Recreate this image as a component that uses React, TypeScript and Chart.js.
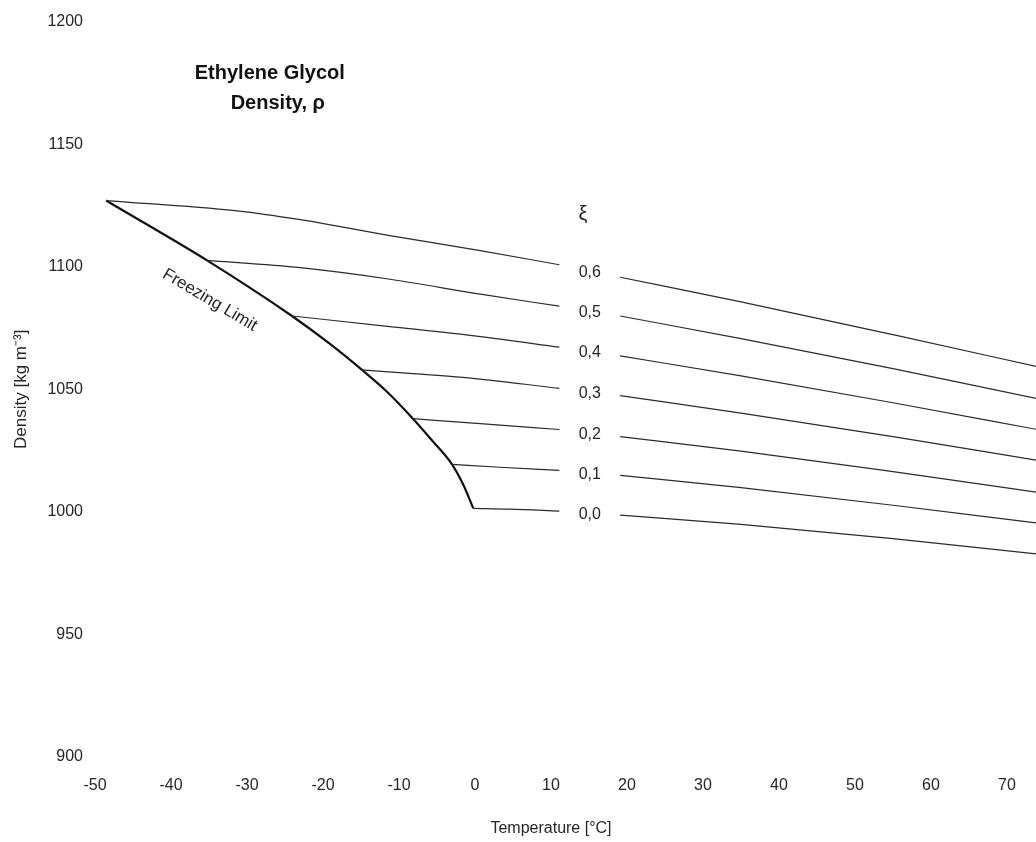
import React, { useEffect, useRef } from "react";
import { Chart, registerables } from "chart.js";

Chart.register(...registerables);

// ---- Axis ticks ----
const xTickValues = [-50, -40, -30, -20, -10, 0, 10, 20, 30, 40, 50, 60, 70];
const yTickValues = [900, 950, 1000, 1050, 1100, 1150, 1200];

// ---- Freezing limit ----
const freezingT = [-48.55, -35.26, -24.08, -19.08, -14.87, -11.58, -8.16, -5.53, -3.03, -1.54, -0.22];
const freezingRho = [1127.0, 1102.6, 1079.9, 1068.5, 1057.9, 1049.0, 1038.0, 1028.7, 1019.4, 1011.1, 1001.4];

// ---- Concentration lines (left part: freezing point -> ~11 °C, right part: ~19 °C -> right edge) ----
const xiLabels = ["0,6", "0,5", "0,4", "0,3", "0,2", "0,1", "0,0"];

const xi06LeftT = [-48.55, -31.6, -23.0, -11.2, 0.7, 11.1];
const xi06LeftRho = [1127.0, 1122.9, 1119.2, 1112.7, 1106.6, 1100.8];
const xi06RightT = [19.1, 35, 55, 74];
const xi06RightRho = [1095.7, 1085.7, 1072.3, 1059.2];

const xi05LeftT = [-35.26, -23.0, -11.2, 0.7, 11.1];
const xi05LeftRho = [1102.6, 1099.6, 1094.9, 1088.8, 1083.9];
const xi05RightT = [19.1, 35, 55, 74];
const xi05RightRho = [1079.9, 1070.7, 1058.4, 1046.2];

const xi04LeftT = [-24.08, -11.2, 0.7, 11.1];
const xi04LeftRho = [1079.9, 1075.6, 1071.5, 1067.2];
const xi04RightT = [19.1, 35, 55, 74];
const xi04RightRho = [1063.6, 1055.5, 1044.5, 1033.6];

const xi03LeftT = [-14.87, -8.6, -1.6, 11.1];
const xi03LeftRho = [1057.9, 1056.5, 1054.9, 1050.4];
const xi03RightT = [19.1, 35, 55, 74];
const xi03RightRho = [1047.4, 1040.3, 1030.7, 1021.0];

const xi02LeftT = [-8.16, 0.7, 11.1];
const xi02LeftRho = [1038.0, 1036.0, 1033.6];
const xi02RightT = [19.1, 35, 55, 74];
const xi02RightRho = [1030.7, 1024.8, 1016.4, 1008.0];

const xi01LeftT = [-3.03, 3.3, 11.1];
const xi01LeftRho = [1019.4, 1018.2, 1016.9];
const xi01RightT = [19.1, 35, 55, 74];
const xi01RightRho = [1014.9, 1009.9, 1002.7, 995.4];

const xi00LeftT = [-0.22, 4.6, 11.1];
const xi00LeftRho = [1001.4, 1001.1, 1000.3];
const xi00RightT = [19.1, 35, 55, 74];
const xi00RightRho = [998.7, 994.9, 989.1, 982.8];

const seriesLeftT = [xi06LeftT, xi05LeftT, xi04LeftT, xi03LeftT, xi02LeftT, xi01LeftT, xi00LeftT];
const seriesLeftRho = [xi06LeftRho, xi05LeftRho, xi04LeftRho, xi03LeftRho, xi02LeftRho, xi01LeftRho, xi00LeftRho];
const seriesRightT = [xi06RightT, xi05RightT, xi04RightT, xi03RightT, xi02RightT, xi01RightT, xi00RightT];
const seriesRightRho = [xi06RightRho, xi05RightRho, xi04RightRho, xi03RightRho, xi02RightRho, xi01RightRho, xi00RightRho];

// ---- Texts ----
const titleLines = ["Ethylene Glycol", "Density, \u03C1"];
const xTitle = "Temperature [\u00B0C]";
const yTitle = "Density [kg m\u207B\u00B3]";
const freezingText = "Freezing Limit";
const xiSymbol = "\u03BE";

const FONT = '"Liberation Sans", Arial, Helvetica, sans-serif';
const TEXT = "#262626";
const LINE = "#2b2b2b";

function pairs(ts: number[], rs: number[]) {
  return ts.map((t, i) => ({ x: t, y: rs[i] }));
}

const annotations = {
  id: "annotations",
  afterDatasetsDraw(chart: any) {
    const { ctx } = chart;
    const xs = chart.scales.x;
    const ys = chart.scales.y;
    ctx.save();
    ctx.fillStyle = "#111";
    ctx.textAlign = "center";
    ctx.textBaseline = "middle";

    // chart title
    ctx.font = `bold 20px ${FONT}`;
    const tx = xs.getPixelForValue(-27);
    const ty = ys.getPixelForValue(1179);
    ctx.fillText(titleLines[0], tx, ty);
    ctx.fillText(titleLines[1], tx + 8, ty + 30);

    // Freezing limit label, parallel to the freezing line
    const p0x = xs.getPixelForValue(freezingT[0]);
    const p0y = ys.getPixelForValue(freezingRho[0]);
    const p1x = xs.getPixelForValue(freezingT[1]);
    const p1y = ys.getPixelForValue(freezingRho[1]);
    const ang = Math.atan2(p1y - p0y, p1x - p0x);
    ctx.save();
    ctx.translate(xs.getPixelForValue(-34.9), ys.getPixelForValue(1086.4));
    ctx.rotate(ang);
    ctx.font = `17px ${FONT}`;
    ctx.fillStyle = TEXT;
    ctx.fillText(freezingText, 0, 0);
    ctx.restore();

    // concentration labels in the gap
    ctx.font = `16px ${FONT}`;
    ctx.fillStyle = TEXT;
    const lx = xs.getPixelForValue(15.1);
    xiLabels.forEach((lab, i) => {
      const lr = seriesLeftRho[i];
      const yl = ys.getPixelForValue(lr[lr.length - 1]);
      const yr = ys.getPixelForValue(seriesRightRho[i][0]);
      ctx.fillText(lab, lx, (yl + yr) / 2 + 1.5);
    });

    // xi symbol (column header of the labels)
    ctx.font = `20px ${FONT}`;
    ctx.fillText(xiSymbol, xs.getPixelForValue(14.2), ys.getPixelForValue(1121.3));

    ctx.restore();
  },
};

export default function App() {
  const canvasRef = useRef<HTMLCanvasElement | null>(null);

  useEffect(() => {
    const canvas = canvasRef.current;
    if (!canvas) return;

    const datasets: any[] = [];
    seriesLeftT.forEach((_, i) => {
      const data = [
        ...pairs(seriesLeftT[i], seriesLeftRho[i]),
        { x: 15, y: null },
        ...pairs(seriesRightT[i], seriesRightRho[i]),
      ];
      datasets.push({
        label: xiLabels[i],
        data,
        borderColor: LINE,
        borderWidth: 1.2,
        pointRadius: 0,
        fill: false,
        spanGaps: false,
        cubicInterpolationMode: "monotone",
        clip: false,
      });
    });
    datasets.push({
      label: "Freezing Limit",
      data: pairs(freezingT, freezingRho),
      borderColor: "#111",
      borderWidth: 2.2,
      pointRadius: 0,
      fill: false,
      cubicInterpolationMode: "monotone",
      clip: false,
    });

    const chart = new Chart(canvas, {
      type: "line",
      data: { datasets },
      plugins: [annotations],
      options: {
        responsive: false,
        animation: false,
        parsing: false as any,
        layout: { padding: { left: 0, right: 29, top: 18, bottom: 0 } },
        plugins: {
          legend: { display: false },
          tooltip: { enabled: false },
          title: { display: false },
        },
        scales: {
          x: {
            type: "linear",
            min: -50,
            max: 70,
            afterBuildTicks: (s: any) => {
              s.ticks = xTickValues.map((v) => ({ value: v }));
            },
            afterFit: (s: any) => {
              s.height = 85;
            },
            grid: { display: false, drawTicks: false },
            border: { display: false },
            ticks: {
              padding: 19,
              color: TEXT,
              font: { family: FONT, size: 16 },
              maxRotation: 0,
              autoSkip: false,
              callback: (v: any) => String(v),
            },
            title: {
              display: true,
              text: xTitle,
              color: TEXT,
              font: { family: FONT, size: 16 },
              padding: { top: 0, bottom: 4 },
            },
          },
          y: {
            type: "linear",
            min: 900,
            max: 1200,
            afterBuildTicks: (s: any) => {
              s.ticks = yTickValues.map((v) => ({ value: v }));
            },
            afterFit: (s: any) => {
              s.width = 95;
            },
            grid: { display: false, drawTicks: false },
            border: { display: false },
            ticks: {
              padding: 12,
              color: TEXT,
              font: { family: FONT, size: 16 },
              autoSkip: false,
              callback: (v: any) => String(v),
            },
            title: {
              display: true,
              text: yTitle,
              color: TEXT,
              font: { family: FONT, size: 17 },
              padding: { top: 11, bottom: 0 },
            },
          },
        },
      },
    } as any);

    return () => chart.destroy();
  }, []);

  return (
    <div
      style={{
        position: "fixed",
        left: 0,
        top: 0,
        width: 1036,
        height: 842,
        overflow: "hidden",
        background: "#fff",
      }}
    >
      <canvas ref={canvasRef} width={1036} height={842} style={{ display: "block" }} />
    </div>
  );
}
